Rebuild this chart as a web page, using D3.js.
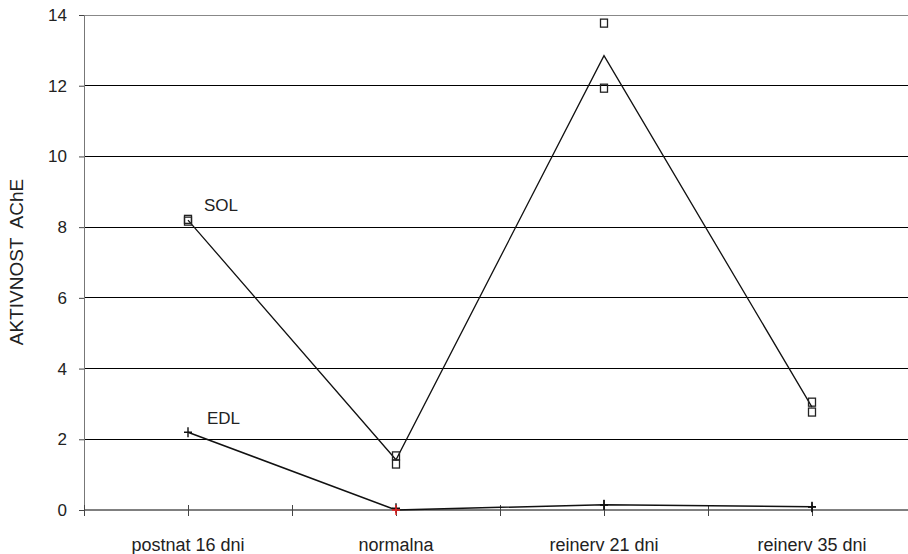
<!DOCTYPE html>
<html><head><meta charset="utf-8">
<script src="https://cdn.jsdelivr.net/npm/d3@7"></script>
<style>body{margin:0;background:#fff}text{font-family:"Liberation Sans",Arial,sans-serif}</style>
</head><body><svg id="c" width="908" height="554"></svg>
<script>
const categories = ["postnat 16 dni","normalna","reinerv 21 dni","reinerv 35 dni"];
const solPoints = [[8.22,8.17],[1.53,1.30],[13.77,11.93],[3.05,2.77]];
const solMean = [8.2,1.42,12.85,2.91];
const edlPoints = [[2.2],[0.05],[0.15,0.14],[0.09,0.08]];
const edlMean = [2.2,0.0,0.15,0.09];
const redPoint = [{i:1,v:0}];
const yTicks = [0,2,4,6,8,10,12,14];

const svg = d3.select("#c");
const x = d3.scaleLinear().domain([-0.5,3.5]).range([84,916]);
const y = d3.scaleLinear().domain([0,14]).range([510,15]);

// gridlines
svg.append("g").selectAll("line").data(yTicks.slice(1)).join("line")
  .attr("x1",84).attr("x2",908).attr("y1",d=>y(d)).attr("y2",d=>y(d))
  .attr("stroke",d=>d===14?"#888":"#000").attr("stroke-width",1).attr("shape-rendering","crispEdges");

// y axis
const ya = svg.append("g").attr("transform","translate(84,0)")
  .call(d3.axisLeft(y).tickValues(yTicks).tickSize(5).tickPadding(12).tickFormat(d3.format("d")));
ya.select(".domain").attr("stroke","#777");
ya.selectAll(".tick line").attr("stroke","#444");
ya.selectAll("text").attr("font-size",17).attr("fill","#222").attr("font-family","Liberation Sans, Arial, sans-serif");

// x axis
const xa = svg.append("g").attr("transform","translate(0,510)")
  .call(d3.axisBottom(x).tickValues(d3.range(-0.5,3.51,0.5)).tickSizeInner(6).tickSizeOuter(0).tickFormat(""));
xa.select(".domain").attr("stroke","#000").attr("d","M84,0H908");
xa.selectAll(".tick line").attr("y1",-5).attr("y2",6).attr("stroke","#444");

svg.append("g").selectAll("text").data(categories).join("text")
  .attr("x",(d,i)=>x(i)).attr("y",551).attr("text-anchor","middle")
  .attr("font-size",18).attr("fill","#222").text(d=>d);

// axis title
svg.append("text").attr("transform","translate(23,262) rotate(-90)")
  .attr("text-anchor","middle").attr("font-size",19).attr("fill","#222")
  .attr("xml:space","preserve").style("white-space","pre").text("AKTIVNOST  AChE");

const line = d3.line().x((d,i)=>x(i)).y(d=>y(d));
svg.append("path").datum(solMean).attr("d",line).attr("fill","none").attr("stroke","#111").attr("stroke-width",1.3);
svg.append("path").datum(edlMean).attr("d",line).attr("fill","none").attr("stroke","#111").attr("stroke-width",1.5);

// squares
const sq = [];
solPoints.forEach((a,i)=>a.forEach(v=>sq.push({i,v})));
svg.append("g").selectAll("rect").data(sq).join("rect")
  .attr("x",d=>x(d.i)-3.5).attr("y",d=>y(d.v)-4).attr("width",7).attr("height",8)
  .attr("fill","none").attr("stroke","#222").attr("stroke-width",1.3);

// crosses
const cr = [];
edlPoints.forEach((a,i)=>a.forEach(v=>cr.push({i,v})));
const cross = (g,data,color)=>g.selectAll("path").data(data).join("path")
  .attr("d",d=>`M${x(d.i)-4},${y(d.v)}H${x(d.i)+4}M${x(d.i)},${y(d.v)-5}V${y(d.v)+5}`)
  .attr("stroke",color).attr("stroke-width",1.4).attr("fill","none");
cross(svg.append("g"),cr,"#111");
cross(svg.append("g"),redPoint,"#e22");

svg.append("text").attr("x",204).attr("y",211).attr("font-size",17).attr("fill","#222").text("SOL");
svg.append("text").attr("x",207).attr("y",424).attr("font-size",17).attr("fill","#222").text("EDL");
</script></body></html>
